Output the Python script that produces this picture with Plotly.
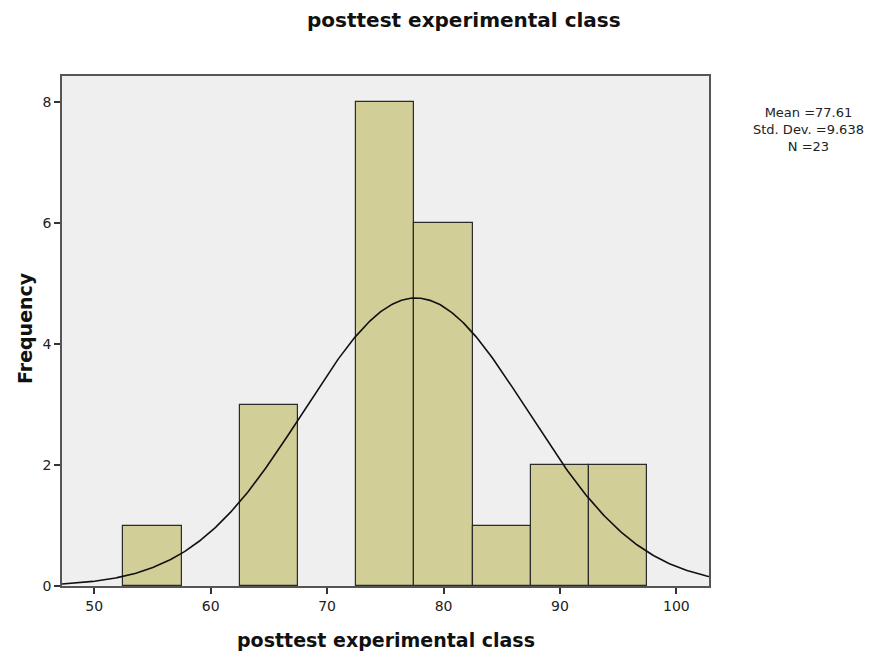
import numpy as np
import plotly.graph_objects as go

bin_centers = [55, 65, 75, 80, 85, 90, 95]
frequencies = [1, 3, 8, 6, 1, 2, 2]
bin_width = 5
mean_val = 77.61
std_val = 9.638
n_val = 23
x_ticks = [50, 60, 70, 80, 90, 100]
y_ticks = [0, 2, 4, 6, 8]
stat_lines = [f"Mean ={mean_val}", f"Std. Dev. ={std_val}", f"N ={n_val}"]

xr = [47.23, 102.8]
yr = [0, 8.43]

xs = np.linspace(xr[0], xr[1], 400)
ys = n_val * bin_width * np.exp(-0.5 * ((xs - mean_val) / std_val) ** 2) / (std_val * np.sqrt(2 * np.pi))

fig = go.Figure()
fig.add_trace(go.Bar(
    x=bin_centers, y=frequencies, width=bin_width,
    marker=dict(color="rgb(210,206,151)", line=dict(color="#2b2b2b", width=1.2)),
    showlegend=False, hoverinfo="x+y"))
fig.add_trace(go.Scatter(
    x=xs, y=ys, mode="lines", line=dict(color="#111111", width=1.6),
    showlegend=False, hoverinfo="skip"))

font = "DejaVu Sans, Verdana, sans-serif"
OFF = 8  # page body margin offset
W, H = 886 - OFF, 653 - OFF
L, R, T, B = 62 - OFF, 709 - OFF, 76 - OFF, 586 - OFF
fig.update_layout(
    width=W, height=H,
    margin=dict(l=L, r=W - R, t=T, b=H - B, autoexpand=False),
    paper_bgcolor="white", plot_bgcolor="#EFEFEF",
    bargap=0,
    font=dict(family=font, size=14, color="#222"),
)
axis_common = dict(
    ticks="outside", ticklen=6, tickwidth=1.5, tickcolor="#333",
    showgrid=False, zeroline=False, automargin=False,
    showline=True, linecolor="#555", linewidth=1.5, mirror=True,
    tickfont=dict(family=font, size=14, color="#222"))
fig.update_xaxes(range=xr, tickvals=x_ticks, **axis_common)
fig.update_yaxes(range=yr, tickvals=y_ticks, **axis_common)

def px_x(x):
    return (x - OFF - L) / (R - L)

def px_y(y):
    return (B - (y - OFF)) / (B - T)

fig.add_annotation(
    xref="paper", yref="paper", x=px_x(464), y=px_y(20),
    text="<b>posttest experimental class</b>", showarrow=False,
    xanchor="center", yanchor="middle", font=dict(family=font, size=20, color="#111"))
fig.add_annotation(
    xref="paper", yref="paper", x=0.5, y=px_y(640),
    text="<b>posttest experimental class</b>", showarrow=False,
    xanchor="center", yanchor="middle", font=dict(family=font, size=19, color="#111"))
fig.add_annotation(
    xref="paper", yref="paper", x=px_x(25), y=px_y(328),
    text="<b>Frequency</b>", showarrow=False, textangle=-90,
    xanchor="center", yanchor="middle", font=dict(family=font, size=19, color="#111"))

fig.add_annotation(
    xref="paper", yref="paper", x=px_x(808), y=px_y(130),
    text="<br>".join(stat_lines), showarrow=False, align="center",
    xanchor="center", yanchor="middle",
    font=dict(family=font, size=13, color="#222"))

fig.write_html("out.html")
